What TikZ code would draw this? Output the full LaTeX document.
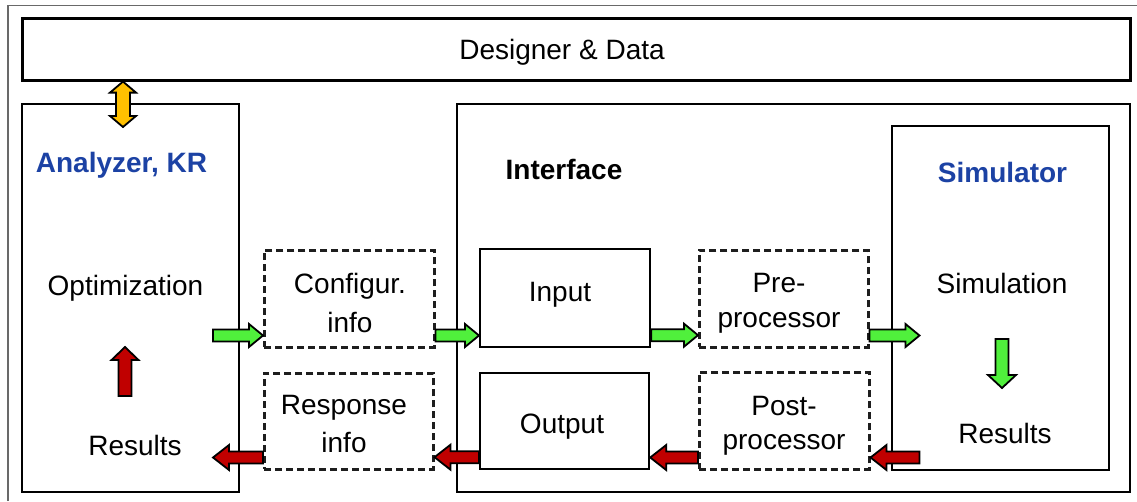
\documentclass[tikz,border=0pt]{standalone}
\usepackage{fontspec}
\setmainfont{Liberation Sans}
\usetikzlibrary{calc}
\definecolor{agreen}{RGB}{80,240,60}
\definecolor{ared}{RGB}{192,0,0}
\definecolor{ayellow}{RGB}{255,192,0}
\definecolor{ablue}{RGB}{28,66,164}
\definecolor{framegray}{RGB}{105,105,105}
\definecolor{dashgray}{RGB}{30,30,30}
\begin{document}
\begin{tikzpicture}[x=1pt,y=-1pt,
  box/.style={draw=black, line width=2.2pt, inner sep=0pt, anchor=north west},
  dbox/.style={draw=dashgray, line width=2.5pt, dash pattern=on 7pt off 4pt, inner sep=0pt, anchor=north west},
  txt/.style={inner sep=0pt, anchor=base, align=center, font=\fontsize{28}{34}\selectfont},
  btxt/.style={txt, font=\fontsize{28}{34}\selectfont\bfseries},
  arrbody/.store in=\abw, arrhead/.store in=\ahw, arrheadlen/.store in=\ahl,
  arrbody=6, arrhead=12, arrheadlen=15,
  blk/.style={draw=black, line width=1.8pt, line join=miter},
  hba/.style={blk, to path={
    let \p1=(\tikztostart), \p2=(\tikztotarget), \n1={ifthenelse(\x2>\x1,\ahl,-\ahl)} in
    (\x1,{\y1+\abw}) -- ({\x2-\n1},{\y1+\abw}) -- ({\x2-\n1},{\y1+\ahw}) -- (\x2,\y1)
    -- ({\x2-\n1},{\y1-\ahw}) -- ({\x2-\n1},{\y1-\abw}) -- (\x1,{\y1-\abw}) -- cycle}},
  vba/.style={blk, to path={
    let \p1=(\tikztostart), \p2=(\tikztotarget), \n1={ifthenelse(\y2>\y1,\ahl,-\ahl)} in
    ({\x1+\abw},\y1) -- ({\x1+\abw},{\y2-\n1}) -- ({\x1+\ahw},{\y2-\n1}) -- (\x1,\y2)
    -- ({\x1-\ahw},{\y2-\n1}) -- ({\x1-\abw},{\y2-\n1}) -- ({\x1-\abw},\y1) -- cycle}},
  dvba/.style={blk, to path={
    let \p1=(\tikztostart), \p2=(\tikztotarget), \n1={ifthenelse(\y2>\y1,\ahl,-\ahl)} in
    (\x1,\y1) -- ({\x1+\ahw},{\y1+\n1}) -- ({\x1+\abw},{\y1+\n1}) -- ({\x1+\abw},{\y2-\n1})
    -- ({\x1+\ahw},{\y2-\n1}) -- (\x1,\y2) -- ({\x1-\ahw},{\y2-\n1}) -- ({\x1-\abw},{\y2-\n1})
    -- ({\x1-\abw},{\y1+\n1}) -- ({\x1-\ahw},{\y1+\n1}) -- cycle}}
]
\useasboundingbox (0,0) rectangle (1137,501);
% outer frame
\draw[framegray, line width=1.5pt] (8,501) -- (8,5.5) -- (1137,5.5);

% boxes
\node[box, line width=2.6pt, minimum width=1108pt, minimum height=62pt] (designer) at (21,17) {};
\node[box, minimum width=217pt, minimum height=388pt] (ana) at (21,103) {};
\node[box, minimum width=673pt, minimum height=388pt] (iface) at (456,103) {};
\node[box, minimum width=217pt, minimum height=344pt] (sim) at (891,125) {};
\node[dbox, minimum width=170pt, minimum height=97pt] (conf) at (263,249) {};
\node[dbox, minimum width=169pt, minimum height=96pt] (resp) at (263,372) {};
\node[box, minimum width=170pt, minimum height=98pt] (inp) at (479,248) {};
\node[box, minimum width=169pt, minimum height=96pt] (outp) at (479,372) {};
\node[dbox, minimum width=169pt, minimum height=97pt] (pre) at (698,249) {};
\node[dbox, minimum width=170pt, minimum height=97pt] (post) at (698,371) {};

% arrow end coordinates
\coordinate (ytop) at ($(designer.south west)+(102,0)$);
\coordinate (ybot) at ($(ana.north west)+(102,24)$);
\coordinate (rlow) at ($(ana.north west)+(104,293)$);
\coordinate (rup) at ($(ana.north west)+(104,244)$);
\coordinate (gtop) at ($(sim.north west)+(111,214)$);
\coordinate (gbot) at ($(sim.north west)+(111,263)$);
\coordinate (g1s) at ($(conf.south west)+(-50,-13)$);
\coordinate (g1e) at ($(conf.south west)+(0,-13)$);
\coordinate (g2s) at ($(conf.south east)+(0,-13)$);
\coordinate (g2e) at ($(inp.south west)+(0,-13)$);
\coordinate (g3s) at ($(inp.south east)+(0,-13)$);
\coordinate (g3e) at ($(pre.south west)+(0,-13)$);
\coordinate (g4s) at ($(pre.south east)+(0,-13)$);
\coordinate (g4e) at ($(pre.south east)+(50,-13)$);
\coordinate (r4s) at ($(post.south east)+(49,-13)$);
\coordinate (r4e) at ($(post.south east)+(0,-13)$);
\coordinate (r3s) at ($(post.south west)+(0,-13)$);
\coordinate (r3e) at ($(outp.south east)+(0,-13)$);
\coordinate (r2s) at ($(outp.south west)+(0,-13)$);
\coordinate (r2e) at ($(resp.south east)+(0,-13)$);
\coordinate (r1s) at ($(resp.south west)+(0,-13)$);
\coordinate (r1e) at ($(resp.south west)+(-50,-13)$);

% block arrows
\draw[dvba, fill=ayellow, arrbody=7, arrhead=13, arrheadlen=11] (ybot) to (ytop);
\draw[vba, fill=ared, arrbody=6.5, arrhead=13.5, arrheadlen=13] (rlow) to (rup);
\draw[vba, fill=agreen, arrbody=6.5, arrhead=14, arrheadlen=13] (gtop) to (gbot);
\foreach \s/\e in {g1s/g1e, g2s/g2e, g3s/g3e, g4s/g4e}
  \draw[hba, fill=agreen, arrbody=6, arrhead=11.5, arrheadlen=14] (\s) to (\e);
\foreach \s/\e in {r4s/r4e, r3s/r3e, r2s/r2e, r1s/r1e}
  \draw[hba, fill=ared, arrbody=6, arrhead=12.5, arrheadlen=16] (\s) to (\e);

% texts
\node[txt] (tdes) at (562,59) {Designer \& Data};
\node[btxt, text=ablue] (tana) at (121.5,172) {Analyzer, KR};
\node[txt] (topt) at (125.5,295) {Optimization};
\node[txt] (tresl) at (135,455) {Results};
\node[btxt] (tif) at (564,179) {Interface};
\node[btxt, text=ablue] (tsim) at (1002.5,182) {Simulator};
\node[txt] (tsimu) at (1002,293) {Simulation};
\node[txt] (tresr) at (1005,443) {Results};
\node[txt, font=\fontsize{28}{39}\selectfont] (tconf) at (350,332) {Configur.\\info};
\node[txt] (tinp) at (560,301) {Input};
\node[txt, font=\fontsize{28}{35}\selectfont] (tpre) at (779,327) {Pre-\\processor};
\node[txt, font=\fontsize{28}{38}\selectfont] (tresp) at (344,452) {Response\\info};
\node[txt] (toutp) at (562,433) {Output};
\node[txt, font=\fontsize{28}{34}\selectfont] (tpost) at (784,449) {Post-\\processor};
\end{tikzpicture}
\end{document}
